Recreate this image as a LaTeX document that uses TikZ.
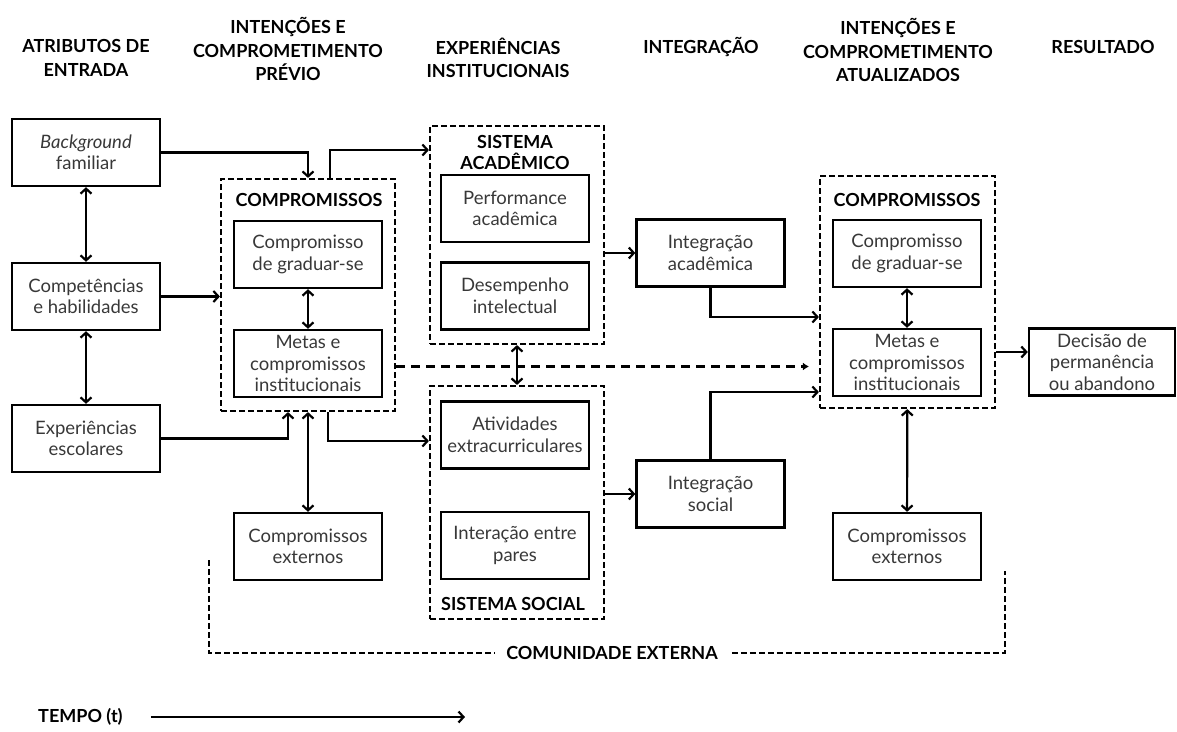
\documentclass[tikz,border=0pt]{standalone}
\usepackage{fontspec}
\setmainfont{Lato}
\usetikzlibrary{positioning,calc,arrows.meta}

\begin{document}
\begin{tikzpicture}[x=1pt,y=-1pt,
  every node/.style={inner sep=0pt,align=center},
  box/.style={draw,line width=2.4pt,minimum width=148,minimum height=67,font=\fontsize{18.5}{21.5}\selectfont,text=black!78},
  grupo/.style={draw,line width=2.2pt,dash pattern=on 6pt off 3pt,minimum width=174},
  titulo/.style={font=\bfseries\fontsize{18}{23.5}\selectfont},
  seta/.style={line width=2.2pt,-{Straight Barb[length=5pt,width=11pt]}},
  duplaseta/.style={line width=2.2pt,{Straight Barb[length=5pt,width=11pt]}-{Straight Barb[length=5pt,width=11pt]}},
  tracejada/.style={line width=2.2pt,dash pattern=on 9pt off 6pt}]
\useasboundingbox (0,0) rectangle (1177,731);

\node[titulo] (h1) at (86,58) {ATRIBUTOS DE\\ENTRADA};
\node[titulo] (h2) at (288,49) {INTENÇÕES E\\COMPROMETIMENTO\\PRÉVIO};
\node[titulo] (h3) at (498,58) {EXPERIÊNCIAS\\INSTITUCIONAIS};
\node[titulo] (h4) at (701,47) {INTEGRAÇÃO};
\node[titulo] (h5) at (898,50) {INTENÇÕES E\\COMPROMETIMENTO\\ATUALIZADOS};
\node[titulo] (h6) at (1103,47) {RESULTADO};

\node[grupo,minimum height=232] (comp1) at (308,295) {};
\node[grupo,minimum height=218] (acad) at (517,235) {};
\node[grupo,minimum height=233] (social) at (517,502.5) {};
\node[grupo,minimum height=232,minimum width=175] (comp2) at (907.5,292) {};

\node[box] (bg) at (86,152.5) {\textit{Background}\\familiar};
\node[box] (comp) at (86,296.5) {Competências\\e habilidades};
\node[box] (esc) at (86,438.5) {Experiências\\escolares};

\node[titulo] (t1) at (309,200) {COMPROMISSOS};
\node[box] (grad1) at (308,254.5) {Compromisso\\de graduar-se};
\node[box] (metas1) at (308,363.5) {Metas e\\compromissos\\institucionais};
\node[box] (ext1) at (308,546.5) {Compromissos\\externos};

\node[titulo,font=\bfseries\fontsize{18}{21}\selectfont] (t2) at (515,152) {SISTEMA\\ACADÊMICO};
\node[box] (perf) at (515,208.5) {Performance\\acadêmica};
\node[box] (desemp) at (515,296) {Desempenho\\intelectual};
\node[box] (ativ) at (515,435) {Atividades\\extracurriculares};
\node[box] (inter) at (515,545.5) {Interação entre\\pares};
\node[titulo] (t3) at (513,604) {SISTEMA SOCIAL};

\node[box] (intac) at (710.5,253) {Integração\\acadêmica};
\node[box] (intsoc) at (710.5,494) {Integração\\social};

\node[titulo] (t4) at (907,200) {COMPROMISSOS};
\node[box] (grad2) at (907,253.5) {Compromisso\\de graduar-se};
\node[box] (metas2) at (907,362.5) {Metas e\\compromissos\\institucionais};
\node[box] (ext2) at (907,546.5) {Compromissos\\externos};
\node[box,minimum width=146] (decisao) at (1102,362) {Decisão de\\permanência\\ou abandono};

\node[titulo] (comunidade) at (612,653) {COMUNIDADE EXTERNA};
\coordinate (c1) at (209,560);
\coordinate (c2) at (1005,571);
\node[titulo,anchor=west] (tempo) at (38,717) {TEMPO (t)};
\coordinate (tfim) at (465,717);

\draw[duplaseta] (bg) -- (comp);
\draw[duplaseta] (comp) -- (esc);
\draw[seta] (bg) -| (comp1);
\draw[seta] (comp) -- (comp.east -| comp1.west);
\draw[seta] (esc) -| ([xshift=-20pt]comp1.south);
\draw[duplaseta] (grad1) -- (metas1);
\draw[duplaseta] (comp1) -- (ext1);
\draw[seta] ([xshift=22pt]comp1.north) |- ([yshift=85pt]acad.west);
\draw[seta] ([xshift=20pt]comp1.south) |- ([yshift=61.5pt]social.west);
\draw[tracejada,-{Latex[length=6pt,width=8pt]}] ([yshift=-3pt]comp1.east |- metas1) -- ([xshift=-10pt,yshift=-3pt]comp2.west |- metas1);
\draw[duplaseta] (acad) -- (social);
\draw[seta] (acad.east |- intac) -- (intac);
\draw[seta] (social.east |- intsoc) -- (intsoc);
\draw[seta] (intac) |- ([yshift=-25pt]comp2.west);
\draw[seta] (intsoc) |- ([yshift=-100pt]comp2.west);
\draw[duplaseta] (grad2) -- (metas2);
\draw[duplaseta] (comp2) -- (ext2);
\draw[seta] ([yshift=10pt]comp2.east |- decisao) -- ([yshift=10pt]decisao.west);
\draw[tracejada,dash pattern=on 6pt off 3pt] (c1) |- ([xshift=-12pt]comunidade.west);
\draw[tracejada,dash pattern=on 6pt off 3pt] ([xshift=14pt]comunidade.east) -| (c2);
\draw[seta] ([xshift=28pt]tempo.east) -- (tfim);
\end{tikzpicture}
\end{document}
